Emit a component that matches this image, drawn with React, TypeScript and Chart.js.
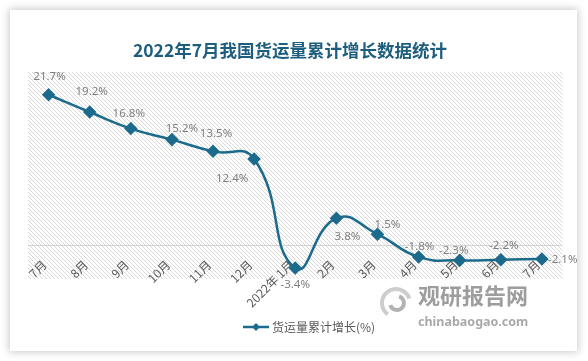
import React, { useEffect, useRef } from "react";
import { Chart, registerables } from "chart.js";

Chart.register(...registerables);

const categories = ["7月", "8月", "9月", "10月", "11月", "12月", "2022年 1月", "2月", "3月", "4月", "5月", "6月", "7月"];
const growth = [21.7, 19.2, 16.8, 15.2, 13.5, 12.4, -3.4, 3.8, 1.5, -1.8, -2.3, -2.2, -2.1];
const valueLabels = ["21.7%", "19.2%", "16.8%", "15.2%", "13.5%", "12.4%", "-3.4%", "3.8%", "1.5%", "-1.8%", "-2.3%", "-2.2%", "-2.1%"];
// label offsets relative to each point (style only)
const labelOffsets: [number, number, CanvasTextAlign][] = [
  [1, -18, "center"], [2, -20, "center"], [-2, -15, "center"], [10, -11, "center"],
  [3, -18, "center"], [-22, 20, "center"], [0, 17, "center"], [11, 18, "center"],
  [10, -9, "center"], [1, -10, "center"], [-6, -10, "center"], [3, -14, "center"],
  [6, 1, "left"],
];
const titleText = "2022年7月我国货运量累计增长数据统计";
const legendText = "货运量累计增长(%)";
const yMin = -5;
const yMax = 25;

const LINE = "#1c6a8c";
const CJK = '"Noto Sans CJK SC", "Noto Sans", sans-serif';
const LAT = '"Noto Sans", "Noto Sans CJK SC", sans-serif';

function makePattern(ctx: CanvasRenderingContext2D) {
  const n = 4;
  const c = document.createElement("canvas");
  c.width = n;
  c.height = n;
  const g = c.getContext("2d")!;
  g.fillStyle = "#ffffff";
  g.fillRect(0, 0, n, n);
  g.fillStyle = "#d9d9d9";
  for (let i = 0; i < n; i++) g.fillRect(i, i, 1, 1);
  return ctx.createPattern(c, "repeat")!;
}

const decor = {
  id: "decor",
  beforeDraw(chart: any) {
    const { ctx, chartArea: a } = chart;
    ctx.save();
    ctx.fillStyle = makePattern(ctx);
    ctx.fillRect(a.left, a.top, a.right - a.left, a.bottom - a.top);
    ctx.restore();
  },
  beforeDatasetsDraw(chart: any) {
    const { ctx, chartArea: a, scales } = chart;
    const y0 = Math.round(scales.y.getPixelForValue(0)) + 0.5;
    ctx.save();
    ctx.strokeStyle = "#d4d4d4";
    ctx.lineWidth = 1;
    ctx.beginPath();
    ctx.moveTo(a.left, y0);
    ctx.lineTo(a.right, y0);
    ctx.stroke();
    // x labels, rotated
    ctx.fillStyle = "#595959";
    ctx.font = `12px ${CJK}`;
    ctx.textAlign = "right";
    ctx.textBaseline = "middle";
    categories.forEach((c, i) => {
      const x = scales.x.getPixelForValue(i);
      ctx.save();
      ctx.translate(x - 4, y0 + 17);
      ctx.rotate(-Math.PI / 4);
      ctx.fillText(c, 0, 0);
      ctx.restore();
    });
    ctx.restore();
  },
  afterDraw(chart: any) {
    const { ctx } = chart;
    const meta = chart.getDatasetMeta(0);
    ctx.save();
    // data labels
    ctx.fillStyle = "#7f7f7f";
    ctx.font = `11.5px ${LAT}`;
    ctx.textBaseline = "middle";
    meta.data.forEach((p: any, i: number) => {
      const [dx, dy, al] = labelOffsets[i];
      ctx.textAlign = al;
      ctx.fillText(valueLabels[i], p.x + dx, p.y + dy);
    });
    // title
    ctx.fillStyle = "#1d5e7e";
    ctx.font = `bold 17.5px ${CJK}`;
    ctx.textAlign = "center";
    ctx.fillText(titleText, 290, 50);
    // legend
    ctx.strokeStyle = LINE;
    ctx.lineWidth = 2.5;
    ctx.beginPath();
    ctx.moveTo(243, 327);
    ctx.lineTo(269, 327);
    ctx.stroke();
    ctx.fillStyle = LINE;
    ctx.beginPath();
    ctx.moveTo(256, 323);
    ctx.lineTo(260, 327);
    ctx.lineTo(256, 331);
    ctx.lineTo(252, 327);
    ctx.closePath();
    ctx.fill();
    ctx.fillStyle = "#595959";
    ctx.font = `12px ${CJK}`;
    ctx.textAlign = "left";
    ctx.fillText(legendText, 272, 327);
    // watermark
    ctx.globalAlpha = 0.85;
    ctx.strokeStyle = "#c4c4c4";
    ctx.lineWidth = 4;
    ctx.beginPath();
    ctx.arc(396, 303, 14, Math.PI * 0.7, Math.PI * 1.9);
    ctx.stroke();
    ctx.strokeStyle = "#a5a5a5";
    ctx.beginPath();
    ctx.arc(397, 303, 7, Math.PI * 1.6, Math.PI * 2.9);
    ctx.stroke();
    ctx.fillStyle = "#8c8c8c";
    ctx.font = `bold 22px ${CJK}`;
    ctx.textAlign = "left";
    ctx.fillText("观研报告网", 418, 296);
    ctx.fillStyle = "#9a9a9a";
    ctx.font = `bold 12.5px ${LAT}`;
    ctx.fillText("chinabaogao.com", 418, 322);
    ctx.restore();
  },
};

export default function App() {
  const ref = useRef<HTMLCanvasElement>(null);
  useEffect(() => {
    const chart = new Chart(ref.current!, {
      type: "line",
      data: {
        labels: categories,
        datasets: [
          {
            data: growth,
            borderColor: LINE,
            backgroundColor: LINE,
            borderWidth: 2.5,
            pointStyle: "rectRot",
            pointRadius: 5,
            pointBackgroundColor: LINE,
            pointBorderColor: LINE,
            tension: 0.5,
            fill: false,
          },
        ],
      },
      options: {
        animation: false,
        responsive: false,
        maintainAspectRatio: false,
        layout: { padding: { left: 28, right: 25.5, top: 72, bottom: 82 } },
        scales: {
          x: { display: false, offset: true },
          y: { display: false, min: yMin, max: yMax },
        },
        plugins: { legend: { display: false }, tooltip: { enabled: false }, title: { display: false } },
      },
      plugins: [decor],
    });
    return () => chart.destroy();
  }, []);
  return (
    <div style={{ position: "fixed", left: 0, top: 0, width: 588, height: 361, background: "#ffffff", overflow: "hidden" }}>
      <div
        style={{
          position: "absolute",
          left: 10,
          top: 10,
          width: 567,
          height: 341,
          background: "#ffffff",
          boxShadow: "0 0 8px 1px rgba(0,0,0,0.22)",
        }}
      />
      <canvas ref={ref} width={588} height={361} style={{ position: "absolute", left: 0, top: 0, width: 588, height: 361 }} />
    </div>
  );
}
